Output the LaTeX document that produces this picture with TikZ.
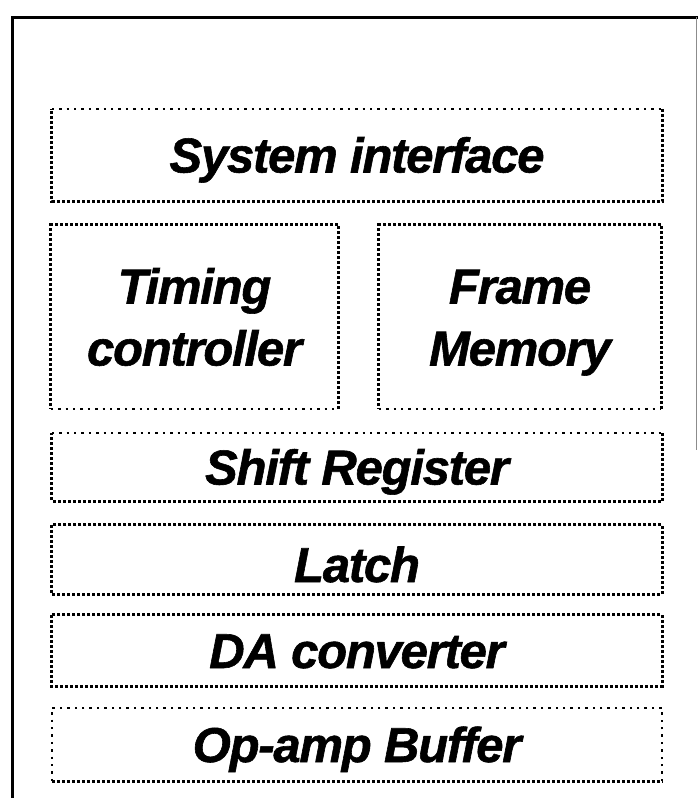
\documentclass[tikz,border=0pt]{standalone}
\usepackage{fontspec}
\setmainfont{Liberation Sans}
\newfontfamily\blkfont[BoldItalicFeatures={FakeBold=1.2,LetterSpace=-2.5}]{Liberation Sans}
\newcommand\bstrut{\rule[-13.5pt]{0pt}{62pt}}
\newcommand\lstrut{\rule[-8.5pt]{0pt}{62pt}}
\begin{document}
\begin{tikzpicture}[x=1pt,y=-1pt,
  blk/.style={rectangle, draw=none, inner sep=0pt, align=center,
    font=\fontsize{49}{62}\blkfont\bfseries\itshape},
  dense/.style={line width=3pt, dash pattern=on 3pt off 2pt},
  sparse/.style={line width=2.4pt, dash pattern=on 2.4pt off 5pt},
  framel/.style={line width=3pt}]
\useasboundingbox (0,0) rectangle (697,798);
% outer frame (cropped)
\coordinate (fbl) at (12,800);
\coordinate (ftl) at (12,17);
\coordinate (ftr) at (699,17);
\draw[framel] (fbl) -- (ftl) -- (ftr);
\draw[black!45, line width=1pt] (696,17) -- (696,450);
% blocks
\node[blk, minimum width=610pt, minimum height=92pt]  (sys)   at (357,155)   {\bstrut System interface};
\node[blk, minimum width=287pt, minimum height=184pt] (tim)   at (194.5,317) {\bstrut Timing\\\bstrut controller};
\node[blk, minimum width=282pt, minimum height=184pt] (fram)  at (520,317)   {\bstrut Frame\\\bstrut Memory};
\node[blk, minimum width=610pt, minimum height=68pt]  (shift) at (357,467)   {\bstrut Shift Register};
\node[blk, minimum width=610pt, minimum height=69pt]  (latch) at (357,559.5) {\lstrut Latch};
\node[blk, minimum width=610pt, minimum height=71pt]  (dac)   at (357,650.5) {\bstrut DA converter};
\node[blk, minimum width=610pt, minimum height=73pt]  (opa)   at (357,744.5) {\bstrut Op-amp Buffer};
% dotted borders
\draw[sparse] (sys.north west) -- (sys.north east);
\draw[dense] (sys.north east) -- (sys.south east) -- (sys.south west) -- (sys.north west);
\draw[dense] (tim.south east) -- (tim.north east) -- (tim.north west) -- (tim.south west);
\draw[sparse] (tim.south west) -- (tim.south east);
\draw[dense] (fram.south east) -- (fram.north east) -- (fram.north west) -- (fram.south west);
\draw[sparse] (fram.south west) -- (fram.south east);
\draw[sparse] (shift.north west) -- (shift.north east);
\draw[dense] (shift.north east) -- (shift.south east) -- (shift.south west) -- (shift.north west);
\draw[dense] (latch.north west) rectangle (latch.south east);
\draw[dense] (dac.north west) rectangle (dac.south east);
\draw[sparse] (opa.south east) -- (opa.north east) -- (opa.north west) -- (opa.south west);
\draw[dense] (opa.south west) -- (opa.south east);
\end{tikzpicture}
\end{document}
